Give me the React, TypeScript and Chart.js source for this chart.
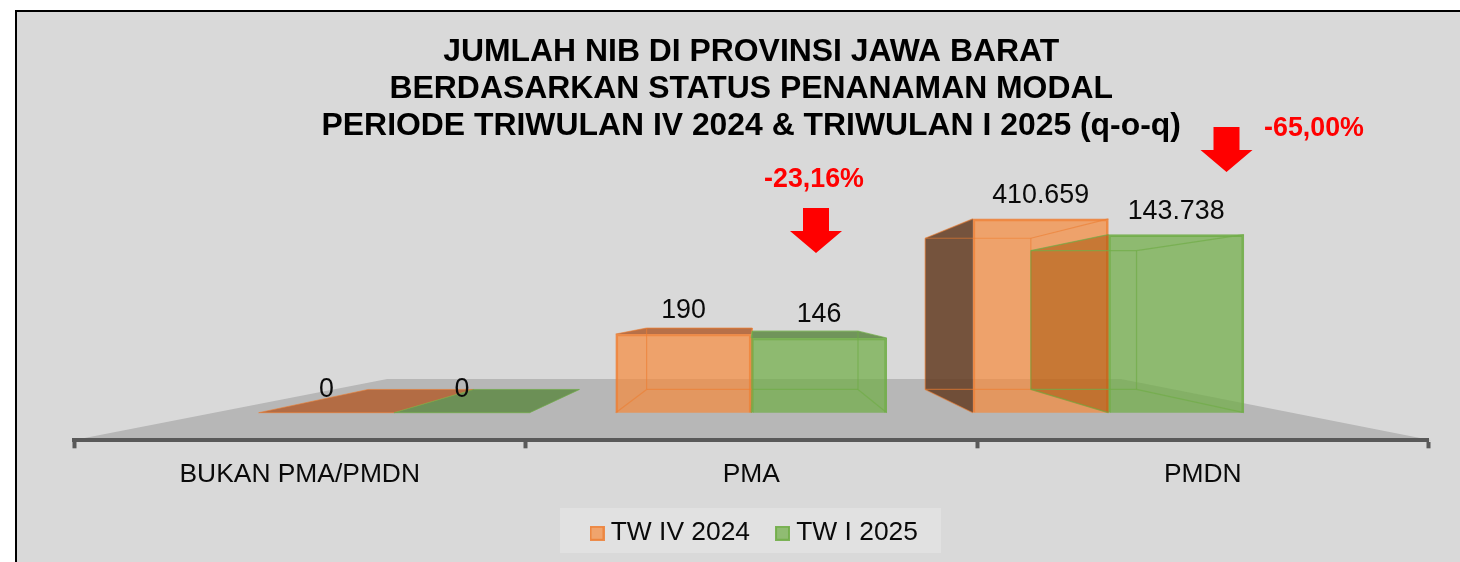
import React, { useEffect, useRef } from "react";
import { Chart, registerables } from "chart.js";

Chart.register(...registerables);

const titleLines = [
  "JUMLAH NIB DI PROVINSI JAWA BARAT",
  "BERDASARKAN STATUS PENANAMAN MODAL",
  "PERIODE TRIWULAN IV 2024 & TRIWULAN I 2025 (q-o-q)",
];
const categories = ["BUKAN PMA/PMDN", "PMA", "PMDN"];
const seriesNames = ["TW IV 2024", "TW I 2025"];
const twIV2024 = [0, 190, 410659];
const twI2025 = [0, 146, 143738];
const changeLabels = ["-23,16%", "-65,00%"];

const FONT = "'Liberation Sans', Arial, sans-serif";
const fills = ["rgba(248,135,55,0.68)", "rgba(112,173,71,0.72)"];
const edges = ["rgba(237,125,49,0.85)", "rgba(112,173,71,0.9)"];
const backEdges = ["rgba(237,125,49,0.6)", "rgba(112,173,71,0.7)"];
const sideFills = ["rgba(100,60,35,0.86)", "rgba(159,78,0,0.5)"];
const capFills = ["rgba(178,100,55,0.9)", "rgba(100,140,75,0.9)"];
const VP = { x: 756, y: 307 };
const BAR_DEPTH = 0.78;
const FLOOR_DEPTH = 0.54;

const project = (x: number, y: number, k: number) => ({
  x: k * x + (1 - k) * VP.x,
  y: k * y + (1 - k) * VP.y,
});

function poly(ctx: CanvasRenderingContext2D, pts: { x: number; y: number }[], fill?: string) {
  ctx.beginPath();
  pts.forEach((p, i) => (i ? ctx.lineTo(p.x, p.y) : ctx.moveTo(p.x, p.y)));
  ctx.closePath();
  if (fill) {
    ctx.fillStyle = fill;
    ctx.fill();
  }
}

const scene = {
  id: "scene",
  afterLayout(chart: any) {
    const lg = chart.legend;
    lg.left = 564.5;
    lg.right = 1000;
    lg.top = 488;
    lg.bottom = 558;
    lg.height = 70;
  },
  beforeDraw(chart: any) {
    const { ctx, chartArea: a } = chart;
    ctx.save();
    ctx.fillStyle = "#E1E1E1";
    ctx.fillRect(560, 508, 381, 45);
    const l = a.left - 1;
    const r = a.right + 3;
    poly(
      ctx,
      [
        { x: l, y: a.bottom },
        project(l, a.bottom, FLOOR_DEPTH),
        project(r, a.bottom, FLOOR_DEPTH),
        { x: r, y: a.bottom },
      ],
      "#B7B7B7"
    );
    ctx.restore();
  },
  afterDatasetsDraw(chart: any) {
    const { ctx, scales } = chart;
    const yS = scales.y;
    const base = yS.getPixelForValue(1);
    ctx.save();
    chart.data.datasets.forEach((ds: any, di: number) => {
      const meta = chart.getDatasetMeta(di);
      meta.data.forEach((bar: any, i: number) => {
        const v = ds.data[i].y;
        const top = yS.getPixelForValue(v > 0 ? v : 1);
        const x0 = bar.x - bar.width / 2;
        const x1 = bar.x + bar.width / 2;
        const fTL = { x: x0, y: top };
        const fTR = { x: x1, y: top };
        const fBL = { x: x0, y: base };
        const fBR = { x: x1, y: base };
        const bTL = project(x0, top, BAR_DEPTH);
        const bTR = project(x1, top, BAR_DEPTH);
        const bBL = project(x0, base, BAR_DEPTH);
        const bBR = project(x1, base, BAR_DEPTH);
        if (bTL.x < x0 && v > 0) poly(ctx, [fTL, bTL, bBL, fBL], sideFills[di]);
        if (bTL.y < top) poly(ctx, [fTL, fTR, bTR, bTL], capFills[di]);
        ctx.strokeStyle = backEdges[di];
        ctx.lineWidth = v > 0 ? 1.2 : 1;
        const segs = v > 0
          ? [[bTL, bTR], [bTR, bBR], [bBR, bBL], [bBL, bTL], [fTL, bTL], [fTR, bTR], [fBL, bBL], [fBR, bBR]]
          : [[fBL, fBR], [fBR, bBR], [bBR, bBL], [bBL, fBL]];
        segs.forEach(([p, q]) => {
          ctx.beginPath();
          ctx.moveTo(p.x, p.y);
          ctx.lineTo(q.x, q.y);
          ctx.stroke();
        });
      });
    });
    // value labels
    ctx.fillStyle = "#0a0a0a";
    ctx.font = `26.8px ${FONT}`;
    ctx.textAlign = "center";
    ctx.textBaseline = "middle";
    chart.data.datasets.forEach((ds: any, di: number) => {
      chart.getDatasetMeta(di).data.forEach((bar: any, i: number) => {
        const v = ds.data[i].y;
        const top = yS.getPixelForValue(v > 0 ? v : 1);
        ctx.fillText(v.toLocaleString("de-DE"), bar.x, top - 23.5);
      });
    });
    // change annotations
    const notes = [
      { text: changeLabels[0], tx: 814, ty: 179.5, ax: 816, ay: 208 },
      { text: changeLabels[1], tx: 1314, ty: 128.5, ax: 1226.5, ay: 127 },
    ];
    notes.forEach((n) => {
      ctx.fillStyle = "#FF0000";
      ctx.font = `bold 26.8px ${FONT}`;
      ctx.fillText(n.text, n.tx, n.ty);
      poly(
        ctx,
        [
          { x: n.ax - 13, y: n.ay },
          { x: n.ax + 13, y: n.ay },
          { x: n.ax + 13, y: n.ay + 23 },
          { x: n.ax + 26, y: n.ay + 23 },
          { x: n.ax, y: n.ay + 45 },
          { x: n.ax - 26, y: n.ay + 23 },
          { x: n.ax - 13, y: n.ay + 23 },
        ],
        "#FF0000"
      );
    });
    ctx.restore();
  },
};

function swatch(fill: string, edge: string) {
  const c = document.createElement("canvas");
  c.width = 15;
  c.height = 15;
  const g = c.getContext("2d")!;
  g.fillStyle = fill;
  g.fillRect(1, 1, 13, 13);
  g.strokeStyle = edge;
  g.lineWidth = 2;
  g.strokeRect(1, 1, 13, 13);
  return c;
}

export default function App() {
  const ref = useRef<HTMLCanvasElement>(null);
  useEffect(() => {
    const toPoints = (vals: number[]) => vals.map((y, x) => ({ x, y }));
    const swatches = [swatch(fills[0], edges[0]), swatch(fills[1], edges[1])];
    const chart = new Chart(ref.current!, {
      type: "bar",
      data: {
        labels: categories,
        datasets: [
          { label: seriesNames[0], data: toPoints(twIV2024), backgroundColor: fills[0], borderColor: edges[0], borderWidth: 2, xAxisID: "xb", base: 1 },
          { label: seriesNames[1], data: toPoints(twI2025), backgroundColor: fills[1], borderColor: edges[1], borderWidth: 2, xAxisID: "xb", base: 1 },
        ] as any,
      },
      options: {
        animation: false,
        responsive: false,
        maintainAspectRatio: false,
        barThickness: 135.5,
        layout: { padding: { left: 74, right: 31.5, top: 0, bottom: 20 } },
        scales: {
          x: {
            type: "category",
            labels: categories,
            offset: true,
            position: "bottom",
            border: { color: "#595959", width: 4 },
            grid: { drawOnChartArea: false, drawTicks: true, offset: true, tickLength: 8, tickWidth: 4, tickColor: "#595959" },
            ticks: { color: "#0a0a0a", padding: 11, font: { family: FONT, size: 26.4 }, maxRotation: 0, autoSkip: false },
          },
          xb: { type: "linear", display: false, offset: false, bounds: "data", grid: { offset: false }, min: -0.8965, max: 2.8965, position: "bottom" },
          y: { type: "logarithmic", display: false, min: Math.pow(10, -0.8), max: 1e7 },
        },
        plugins: {
          title: {
            display: true,
            text: titleLines,
            color: "#000",
            font: { family: FONT, size: 31.9, weight: "bold", lineHeight: 37 / 31.9 },
            padding: { top: 34, bottom: 26 },
          },
          legend: {
            display: true,
            position: "bottom",
            align: "start",
            maxHeight: 40,
            labels: {
              color: "#0a0a0a",
              font: { family: FONT, size: 26.4 },
              padding: 32,
              usePointStyle: true,
              pointStyleWidth: 1,
              generateLabels: (c: any) =>
                (Chart.defaults.plugins.legend.labels as any).generateLabels(c).map((it: any, i: number) => ({
                  ...it,
                  pointStyle: swatches[i],
                })),
            },
          },
          tooltip: { enabled: false },
        },
      } as any,
      plugins: [scene],
    });
    return () => chart.destroy();
  }, []);
  return (
    <div style={{ position: "fixed", left: 0, top: 0, width: 1460, height: 562, background: "#fff", overflow: "hidden" }}>
      <div
        style={{
          position: "absolute",
          left: 15,
          top: 10,
          right: 0,
          bottom: 0,
          background: "#D9D9D9",
          borderLeft: "2px solid #000",
          borderTop: "2px solid #000",
        }}
      />
      <canvas ref={ref} width={1460} height={562} style={{ position: "absolute", left: 0, top: 0, width: 1460, height: 562 }} />
    </div>
  );
}
